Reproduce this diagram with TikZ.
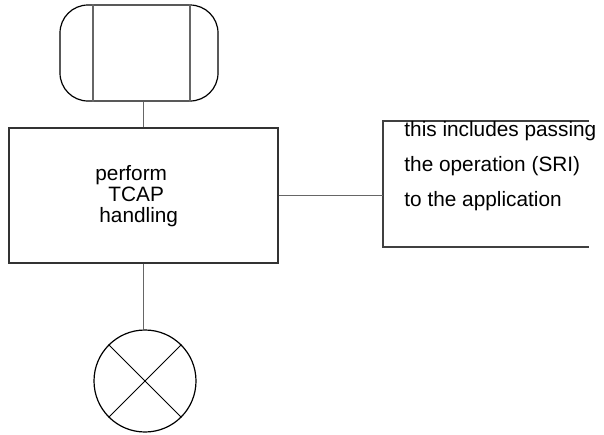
\documentclass[tikz,border=0pt]{standalone}
\usepackage{fontspec}
\setmainfont{Liberation Sans}
\usetikzlibrary{calc}

\begin{document}
\begin{tikzpicture}[x=0.5pt,y=-0.5pt,
  line/.style={black!60,line width=0.6pt},
  symb/.style={draw=black,line width=0.6pt},
  txt/.style={inner sep=0pt,anchor=base west,font=\fontsize{10.4}{12}\selectfont}]
  \useasboundingbox (0,0) rectangle (604,434);
  % start symbol
  \node[symb,rounded corners=14pt,minimum width=79pt,minimum height=48pt,inner sep=0pt] (start) at (139,53) {};
  \draw[line] ($(start.north)+(-46,0)$) -- ($(start.south)+(-46,0)$);
  \draw[line] ($(start.north)+(51,0)$) -- ($(start.south)+(51,0)$);
  % task box
  \node[draw=black!80,line width=0.6pt,minimum width=134.5pt,minimum height=67.5pt,inner sep=0pt] (task) at (143.5,195.5) {};
  \node[txt] (t1) at (95,180) {perform};
  \node[txt] (t2) at (108,201) {TCAP};
  \node[txt] (t3) at (99,222) {handling};
  % stop symbol
  \node[symb,circle,minimum size=51pt,inner sep=0pt] (stop) at (145,381) {};
  \draw[black,line width=0.5pt] (stop.north west) -- (stop.south east);
  \draw[black,line width=0.5pt] (stop.north east) -- (stop.south west);
  % comment
  \coordinate (ctop) at (589,121);
  \coordinate (cbot) at (589,247);
  \draw[black!75,line width=0.6pt] (ctop) -- (383,121) -- (383,247) -- (cbot);
  \coordinate (cjoin) at (383,195.5);
  \node[txt] (c1) at (404,136) {this includes passing};
  \node[txt] (c2) at (404,171) {the operation (SRI)};
  \node[txt] (c3) at (404,206) {to the application};
  % connectors
  \draw[line] (task.north |- start.south) -- (task.north);
  \draw[line] (task.south) -- (task.south |- stop.north);
  \draw[line] (task.east) -- (cjoin);
\end{tikzpicture}
\end{document}
